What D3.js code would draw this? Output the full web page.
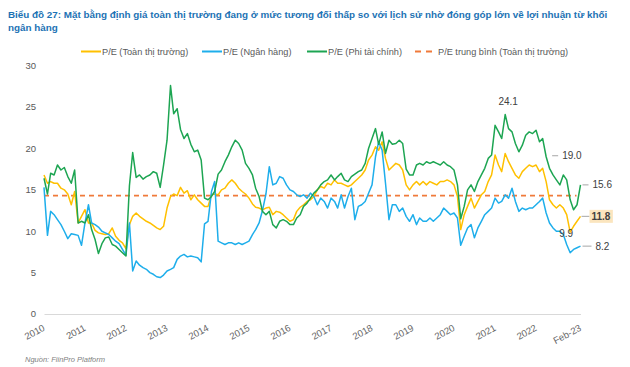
<!DOCTYPE html>
<html>
<head>
<meta charset="utf-8">
<script src="https://cdn.jsdelivr.net/npm/d3@7"></script>
<style>
  body { margin: 0; background: #fff; }
  svg { display: block; font-family: "Liberation Sans", Arial, sans-serif; }
</style>
</head>
<body>
<svg id="chart" width="630" height="367"></svg>
<script>
// monthly values, Jan 2010 .. Feb 2023
const peMarket = [
  16.8, 15.8, 16.0, 15.8, 15.8, 15.2, 15.0, 14.5, 13.2, 14.8, 11.0, 11.8,
  12.6, 11.0, 11.0, 10.1, 9.8, 9.7, 9.6, 9.7, 10.4, 9.4, 8.9, 8.6,
  7.9, 10.8, 11.8, 12.2, 11.8, 11.5, 11.2, 11.0, 10.7, 10.4, 10.2, 10.6,
  12.8, 14.2, 14.5, 14.3, 15.3, 14.6, 14.9, 13.8, 14.4, 13.8, 13.4, 13.0,
  13.0, 14.4, 14.5, 14.4, 15.0, 15.2, 15.8, 16.2, 15.8, 15.2, 14.8, 14.5,
  14.0, 13.3, 12.9, 12.8, 12.6, 12.8, 12.9, 12.0, 12.4, 12.3, 12.0, 11.6,
  11.2, 11.4, 12.4, 12.9, 13.2, 13.6, 13.8, 14.2, 15.0, 15.4, 15.2, 15.8,
  15.6, 16.2, 15.8, 15.8, 15.6, 15.4, 15.6, 16.0, 16.4, 16.8, 17.4, 18.6,
  19.2, 20.2, 19.8, 20.8, 18.8, 17.4, 17.8, 18.2, 18.0, 17.4, 15.6, 15.0,
  15.6, 16.0, 15.6, 16.0, 15.6, 16.0, 15.8, 15.6, 16.0, 16.0, 16.2, 16.0,
  15.6, 14.2, 10.2, 12.0, 13.0, 14.0, 12.8, 13.6, 14.4, 14.8, 16.0, 16.8,
  19.2, 18.0, 17.2, 19.4, 18.4, 17.6, 16.8, 16.4, 17.2, 17.6, 18.0, 17.8,
  18.0, 17.2, 17.6, 16.0, 13.8, 13.2, 12.8, 13.2, 12.8, 12.0, 9.9, 10.6,
  11.2, 11.8
];

const peBank = [
  15.3, 9.5, 12.4, 12.0, 11.4, 10.8, 10.0, 9.1, 9.7, 9.6, 9.5, 8.3,
  11.0, 13.2, 11.0, 10.8, 10.5, 10.0, 9.8, 9.6, 9.2, 8.8, 8.5, 7.8,
  7.1, 11.0, 5.2, 6.4, 5.9, 5.6, 5.4, 5.0, 4.8, 4.5, 4.4, 4.7,
  5.2, 5.4, 5.6, 6.6, 7.0, 7.2, 6.9, 7.0, 6.9, 6.8, 6.3, 10.9,
  11.2, 14.8, 16.0, 8.8, 8.6, 8.4, 8.6, 8.6, 8.4, 8.6, 8.4, 8.6,
  8.8, 9.6, 10.2, 11.0, 12.5, 14.5, 17.8, 15.6, 15.8, 16.6, 16.4, 15.6,
  15.0, 14.8, 14.4, 14.2, 14.4, 14.0, 14.6, 14.2, 13.2, 14.0, 13.6, 12.8,
  14.0, 13.6, 12.8, 14.4, 12.8, 14.2, 15.2, 11.4, 13.0, 13.2, 13.6, 14.6,
  15.6, 19.0, 20.8, 19.8, 15.8, 11.4, 13.2, 13.2, 12.4, 12.8, 11.8, 11.2,
  12.0, 10.8, 11.6, 11.2, 11.2, 11.6, 11.2, 11.6, 12.0, 12.8, 12.4, 12.0,
  12.2, 11.6, 8.3, 9.4, 10.4, 10.8, 9.2, 10.4, 11.2, 12.0, 12.4, 12.8,
  14.0, 13.4, 13.6, 14.4, 14.0, 15.2, 13.6, 12.4, 12.8, 12.6, 12.8, 12.8,
  13.2, 13.6, 14.0, 12.2, 11.0, 10.4, 10.0, 10.0, 9.6, 8.4, 7.4, 7.8,
  8.0, 8.2
];

const peNonFin = [
  16.4, 14.5, 17.0, 16.8, 18.0, 17.4, 17.7, 16.6, 15.8, 17.4, 11.0, 11.2,
  11.0, 12.0, 10.2, 9.0, 7.3, 8.5, 9.2, 9.3, 8.4, 8.2, 7.8, 7.4,
  7.0, 15.5, 19.5, 16.5, 16.8, 16.3, 16.6, 16.8, 17.2, 17.0, 15.3, 18.0,
  21.0, 27.6, 24.2, 24.8, 22.3, 21.2, 21.8, 20.5, 19.6, 19.8, 18.6, 14.0,
  13.8, 14.2, 14.8, 16.9, 17.4, 18.4, 19.2, 20.2, 21.0, 20.6, 19.8, 18.2,
  17.6, 16.8, 15.2, 14.2, 12.4, 12.0, 12.4, 10.8, 10.4, 11.2, 11.4, 11.2,
  10.8, 10.8, 11.6, 12.0, 13.0, 13.4, 14.0, 14.6, 15.0, 15.6, 16.0, 16.2,
  16.8, 16.2, 16.6, 17.0, 16.2, 16.0, 16.6, 16.9, 17.2, 17.4, 18.2, 20.0,
  21.2, 22.4, 20.5, 22.0, 19.4, 21.0, 20.5, 20.6, 21.0, 20.6, 17.5, 16.8,
  16.8, 18.0, 18.2, 18.0, 18.4, 18.2, 18.4, 18.2, 18.0, 18.4, 18.0, 17.8,
  17.4, 15.6, 11.5, 13.0, 15.0, 15.6, 14.8, 16.0, 16.8, 17.6, 18.8, 19.2,
  22.8, 22.0, 21.2, 24.1, 22.4, 22.0, 20.6, 19.6, 20.4, 21.6, 22.0, 21.8,
  22.2, 20.8, 21.2, 19.0, 17.6, 16.8, 16.2, 15.6, 16.8, 16.2, 13.8, 12.6,
  13.2, 15.6
];

const peAverage = 14.3;

const seriesNames = ["P/E (Toàn thị trường)", "P/E (Ngân hàng)", "P/E (Phi tài chính)"];
const averageName = "P/E trung bình (Toàn thị trường)";
const seriesColors = ["#FFC000", "#1EAEEB", "#1DA552"];
const averageColor = "#F07A3A";

const yTicks = [0, 5, 10, 15, 20, 25, 30];
const xTickDates = d3.range(2010, 2023).map((y) => new Date(y, 0, 1)).concat([new Date(2023, 1, 1)]);
const xTickLabels = d3.range(2010, 2023).map(String).concat(["Feb-23"]);

const title1 = "Biểu đồ 27: Mặt bằng định giá toàn thị trường đang ở mức tương đối thấp so với lịch sử nhờ đóng góp lớn về lợi nhuận từ khối";
const title2 = "ngân hàng";
const source = "Nguồn: FiinPro Platform";

const months = d3.timeMonth.range(new Date(2010, 0, 1), new Date(2023, 2, 1));

const svg = d3.select("#chart");

const x = d3.scaleTime()
  .domain([new Date(2010, 0, 1), new Date(2023, 1, 1)])
  .range([44, 580.5]);

const y = d3.scaleLinear()
  .domain([0, 30])
  .range([314, 65.7]);

// title: narrow bold face, sized so the first line spans the width
const titleFont = "'Liberation Sans Narrow', 'Arial Narrow', 'Liberation Sans', Arial, sans-serif";
const t1 = svg.append("text")
  .attr("x", 8).attr("y", 18)
  .attr("fill", "#1C72B4")
  .attr("font-weight", "bold")
  .attr("font-family", titleFont)
  .attr("font-size", 11.5)
  .text(title1);
const w1 = t1.node().getComputedTextLength();
const titleSize = Math.min(12, 11.5 * 600 / w1);
t1.attr("font-size", titleSize);

svg.append("text")
  .attr("x", 8).attr("y", 31)
  .attr("fill", "#1C72B4")
  .attr("font-weight", "bold")
  .attr("font-family", titleFont)
  .attr("font-size", titleSize)
  .text(title2);

// legend
const legendItems = [
  { name: seriesNames[0], color: seriesColors[0], x: 81, dash: null },
  { name: seriesNames[1], color: seriesColors[1], x: 202, dash: null },
  { name: seriesNames[2], color: seriesColors[2], x: 307, dash: null },
  { name: averageName, color: averageColor, x: 415, dash: "6,5" },
];
const legend = svg.append("g").attr("transform", "translate(0,51.5)");
legendItems.forEach((d) => {
  legend.append("line")
    .attr("x1", d.x).attr("x2", d.dash ? d.x + 17 : d.x + 20)
    .attr("stroke", d.color)
    .attr("stroke-width", 2)
    .attr("stroke-dasharray", d.dash);
  legend.append("text")
    .attr("x", d.dash ? d.x + 23 : d.x + 21)
    .attr("dy", "0.35em")
    .attr("font-size", 9.2)
    .attr("fill", "#595959")
    .text(d.name);
});

// y axis labels (no axis line)
svg.append("g")
  .selectAll("text")
  .data(yTicks)
  .join("text")
  .attr("x", 36)
  .attr("y", (d) => y(d))
  .attr("dy", "0.35em")
  .attr("text-anchor", "end")
  .attr("font-size", 9.5)
  .attr("fill", "#595959")
  .text((d) => d);

// x axis
const xAxis = d3.axisBottom(x)
  .tickValues(xTickDates)
  .tickFormat((d, i) => xTickLabels[i])
  .tickSize(0)
  .tickPadding(0);

const gx = svg.append("g")
  .attr("transform", `translate(0,${y(0)})`)
  .call(xAxis);
gx.select(".domain").attr("stroke", "#D9D9D9").attr("stroke-width", 1);
gx.selectAll(".tick text")
  .attr("font-size", 9.5)
  .attr("fill", "#666")
  .attr("font-family", "Liberation Sans, Arial, sans-serif")
  .attr("text-anchor", "end")
  .attr("y", 0)
  .attr("dy", 0)
  .attr("transform", "translate(1,16) rotate(-28)");

// average dashed line
svg.append("line")
  .attr("x1", x(months[0]))
  .attr("x2", x(months[months.length - 1]) - 4)
  .attr("y1", y(peAverage))
  .attr("y2", y(peAverage))
  .attr("stroke", averageColor)
  .attr("stroke-width", 1.6)
  .attr("stroke-dasharray", "5,4");

// series lines
const line = d3.line()
  .x((d, i) => x(months[i]))
  .y((d) => y(d));

[peMarket, peBank, peNonFin].forEach((values, k) => {
  svg.append("path")
    .datum(values)
    .attr("fill", "none")
    .attr("stroke", seriesColors[k])
    .attr("stroke-width", 1.5)
    .attr("stroke-linejoin", "round")
    .attr("d", line);
});

// annotations
const last = months.length - 1;
const ann = svg.append("g").attr("font-size", 10).attr("fill", "#404040");

function leaderLabel(i, value, dx1, dx2, text, dy) {
  const px = x(months[i]);
  const py = y(value) + (dy || 0);
  ann.append("line")
    .attr("x1", px + dx1).attr("x2", px + dx2)
    .attr("y1", py).attr("y2", py)
    .attr("stroke", "#A6A6A6").attr("stroke-width", 1);
  return ann.append("text")
    .attr("x", px + dx2 + 4).attr("y", py)
    .attr("dy", "0.35em")
    .text(text);
}

// peak of non-financial P/E
const peakIdx = d3.maxIndex(peNonFin.slice(120)) + 120;
ann.append("text")
  .attr("x", x(months[peakIdx]) + 3)
  .attr("y", y(peNonFin[peakIdx]) - 10)
  .attr("text-anchor", "middle")
  .text(peNonFin[peakIdx].toFixed(1));

const apr22 = months.findIndex((d) => d.getFullYear() === 2022 && d.getMonth() === 3);
leaderLabel(apr22, peNonFin[apr22], 6, 12, peNonFin[apr22].toFixed(1), -1);

leaderLabel(last, peNonFin[last], 2, 8, peNonFin[last].toFixed(1), 0);
leaderLabel(last, peBank[last], 2, 11, peBank[last].toFixed(1), 0);

// highlighted market label
const mx = x(months[last]);
const my = y(peMarket[last]);
ann.append("line")
  .attr("x1", mx + 1).attr("x2", mx + 9)
  .attr("y1", my).attr("y2", my)
  .attr("stroke", "#A6A6A6");
const hl = ann.append("text")
  .attr("x", mx + 11).attr("y", my)
  .attr("dy", "0.35em")
  .attr("font-weight", "bold")
  .text(peMarket[last].toFixed(1));
const bb = hl.node().getBBox();
ann.insert("rect", "text:last-child")
  .attr("x", bb.x - 2).attr("y", bb.y - 1)
  .attr("width", bb.width + 4).attr("height", bb.height + 2)
  .attr("fill", "#FBE5BE");
hl.raise();

// market trough label
const troughIdx = d3.minIndex(peMarket.slice(144)) + 144;
ann.append("text")
  .attr("x", x(months[troughIdx]) + 3)
  .attr("y", y(peMarket[troughIdx]))
  .attr("dy", "0.45em")
  .attr("text-anchor", "end")
  .text(peMarket[troughIdx].toFixed(1));

// source
svg.append("text")
  .attr("x", 25).attr("y", 362)
  .attr("font-size", 7.5)
  .attr("font-style", "italic")
  .attr("fill", "#7F7F7F")
  .text(source);
</script>
</body>
</html>
